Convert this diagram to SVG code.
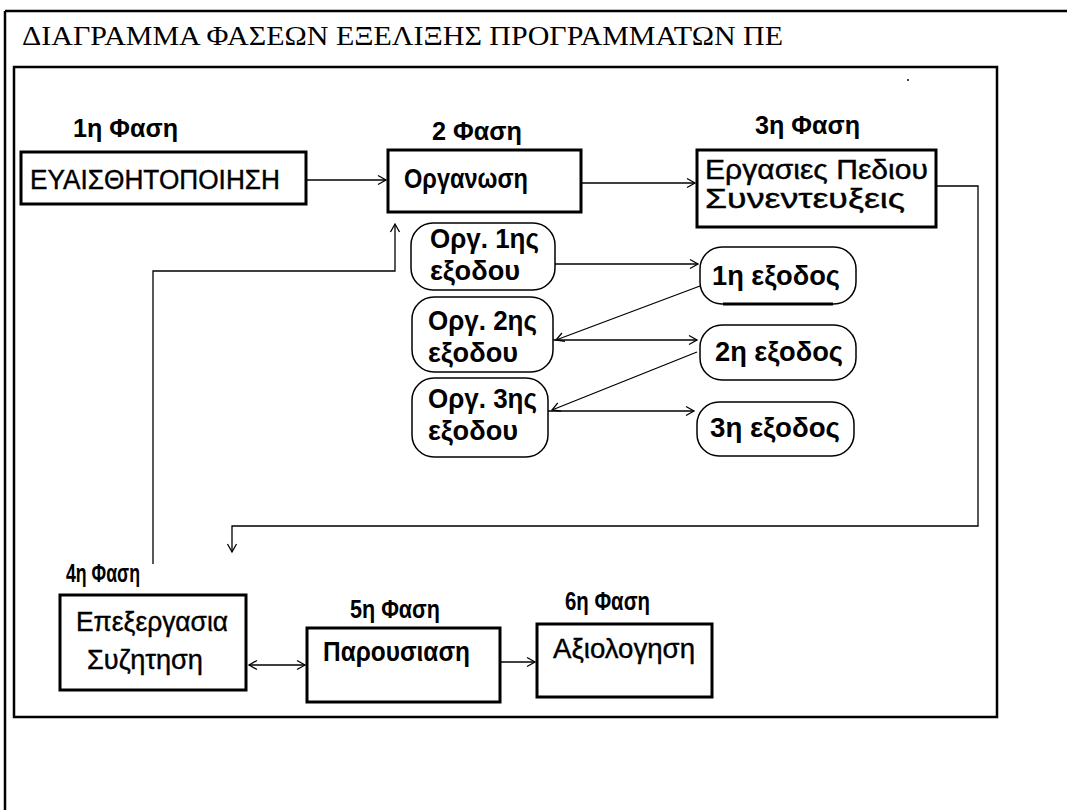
<svg xmlns="http://www.w3.org/2000/svg" width="1067" height="810" viewBox="0 0 1067 810">
<style>
.frame{fill:none;stroke:#000;stroke-width:2.5}
.box{fill:#fff;stroke:#000;stroke-width:3}
.rbox{fill:#fff;stroke:#000;stroke-width:1.5}
.conn{fill:none;stroke:#000;stroke-width:1.3}
.lbl{font-family:"Liberation Sans",Arial,sans-serif;font-weight:bold;font-size:25px;fill:#000}
.txt{font-family:"Liberation Sans",Arial,sans-serif;font-weight:bold;font-size:27px;fill:#000}
.reg{font-family:"Liberation Sans",Arial,sans-serif;font-size:27px;fill:#000;stroke:#000;stroke-width:0.4}
.title{font-family:"Liberation Serif","Times New Roman",serif;font-size:27px;fill:#000}
</style>
<defs>
<marker id="arr" markerUnits="userSpaceOnUse" markerWidth="12" markerHeight="12" refX="9" refY="5" orient="auto-start-reverse" viewBox="0 0 12 10">
<path d="M1,0.5 L9,5 L1,9.5" fill="none" stroke="#000" stroke-width="1.3"/>
</marker>
</defs>
<rect width="1067" height="810" fill="#fff"/>
<g id="page">
<line class="frame" x1="5" y1="11" x2="1067" y2="11"/>
<line class="frame" x1="5" y1="11" x2="5" y2="810"/>
<text class="title" x="22" y="45" textLength="761" lengthAdjust="spacingAndGlyphs">ΔΙΑΓΡΑΜΜΑ ΦΑΣΕΩΝ ΕΞΕΛΙΞΗΣ ΠΡΟΓΡΑΜΜΑΤΩΝ ΠΕ</text>
<rect class="frame" x="14" y="67" width="983" height="650"/>
<circle cx="908" cy="80" r="1" fill="#000"/>
</g>
<g id="connectors">
<line class="conn" x1="306" y1="180" x2="386" y2="180" marker-end="url(#arr)"/>
<line class="conn" x1="581" y1="183" x2="695" y2="183" marker-end="url(#arr)"/>
<polyline class="conn" points="936,186 978,186 978,526 232,526 232,552" marker-end="url(#arr)"/>
<polyline class="conn" points="153,564 153,271 395,271 395,224" marker-end="url(#arr)"/>
<line class="conn" x1="555" y1="264" x2="698" y2="264" marker-end="url(#arr)"/>
<line class="conn" x1="700" y1="286" x2="556" y2="340" marker-end="url(#arr)"/>
<line class="conn" x1="553" y1="340" x2="697" y2="340" marker-end="url(#arr)"/>
<line class="conn" x1="697" y1="352" x2="552" y2="410" marker-end="url(#arr)"/>
<line class="conn" x1="548" y1="411" x2="694" y2="411" marker-end="url(#arr)"/>
<line class="conn" x1="249" y1="665" x2="305" y2="665" marker-start="url(#arr)" marker-end="url(#arr)"/>
<line class="conn" x1="500" y1="662" x2="535" y2="662" marker-end="url(#arr)"/>
</g>
<g id="phase1">
<text class="lbl" x="73" y="137" textLength="105" lengthAdjust="spacingAndGlyphs">1η Φαση</text>
<rect class="box" x="21" y="152" width="285" height="52"/>
<text class="reg" x="30" y="189" textLength="250" lengthAdjust="spacingAndGlyphs">ΕΥΑΙΣΘΗΤΟΠΟΙΗΣΗ</text>
</g>
<g id="phase2">
<text class="lbl" x="432" y="140" textLength="90" lengthAdjust="spacingAndGlyphs">2 Φαση</text>
<rect class="box" x="388" y="150" width="193" height="62"/>
<text class="txt" x="404" y="188" textLength="124" lengthAdjust="spacingAndGlyphs">Οργανωση</text>
</g>
<g id="phase3">
<text class="lbl" x="755" y="134" textLength="105" lengthAdjust="spacingAndGlyphs">3η Φαση</text>
<rect class="box" x="697" y="150" width="239" height="77"/>
<text class="reg" x="705" y="179" textLength="223" lengthAdjust="spacingAndGlyphs">Εργασιες Πεδιου</text>
<text class="reg" x="705" y="208" textLength="200" lengthAdjust="spacingAndGlyphs">Συνεντευξεις</text>
</g>
<g id="org1">
<rect class="rbox" x="411" y="223" width="144" height="67" rx="22"/>
<text class="txt" x="430" y="248" textLength="109" lengthAdjust="spacingAndGlyphs">Οργ. 1ης</text>
<text class="txt" x="430" y="280" textLength="90" lengthAdjust="spacingAndGlyphs">εξοδου</text>
</g>
<g id="org2">
<rect class="rbox" x="412" y="297" width="141" height="75" rx="22"/>
<text class="txt" x="428" y="330" textLength="109" lengthAdjust="spacingAndGlyphs">Οργ. 2ης</text>
<text class="txt" x="428" y="362" textLength="90" lengthAdjust="spacingAndGlyphs">εξοδου</text>
</g>
<g id="org3">
<rect class="rbox" x="412" y="378" width="136" height="79" rx="22"/>
<text class="txt" x="428" y="408" textLength="109" lengthAdjust="spacingAndGlyphs">Οργ. 3ης</text>
<text class="txt" x="428" y="440" textLength="90" lengthAdjust="spacingAndGlyphs">εξοδου</text>
</g>
<g id="exodos1">
<rect class="rbox" x="700" y="247" width="156" height="57" rx="22"/>
<line x1="723" y1="304" x2="833" y2="304" stroke="#000" stroke-width="3"/>
<text class="txt" x="712" y="285" textLength="128" lengthAdjust="spacingAndGlyphs">1η εξοδος</text>
</g>
<g id="exodos2">
<rect class="rbox" x="700" y="325" width="156" height="55" rx="22"/>
<text class="txt" x="715" y="361" textLength="128" lengthAdjust="spacingAndGlyphs">2η εξοδος</text>
</g>
<g id="exodos3">
<rect class="rbox" x="697" y="402" width="157" height="54" rx="22"/>
<text class="txt" x="710" y="437" textLength="130" lengthAdjust="spacingAndGlyphs">3η εξοδος</text>
</g>
<g id="phase4">
<text class="lbl" x="66" y="582" textLength="74" lengthAdjust="spacingAndGlyphs">4η Φαση</text>
<rect class="box" x="60" y="595" width="186" height="95"/>
<text class="reg" x="76" y="631" textLength="152" lengthAdjust="spacingAndGlyphs">Επεξεργασια</text>
<text class="reg" x="87" y="669" textLength="116" lengthAdjust="spacingAndGlyphs">Συζητηση</text>
</g>
<g id="phase5">
<text class="lbl" x="350" y="618" textLength="90" lengthAdjust="spacingAndGlyphs">5η Φαση</text>
<rect class="box" x="307" y="628" width="193" height="74"/>
<text class="txt" x="323" y="661" textLength="147" lengthAdjust="spacingAndGlyphs">Παρουσιαση</text>
</g>
<g id="phase6">
<text class="lbl" x="565" y="610" textLength="85" lengthAdjust="spacingAndGlyphs">6η Φαση</text>
<rect class="box" x="537" y="624" width="175" height="73"/>
<text class="reg" x="553" y="658" textLength="142" lengthAdjust="spacingAndGlyphs">Αξιολογηση</text>
</g>
</svg>
